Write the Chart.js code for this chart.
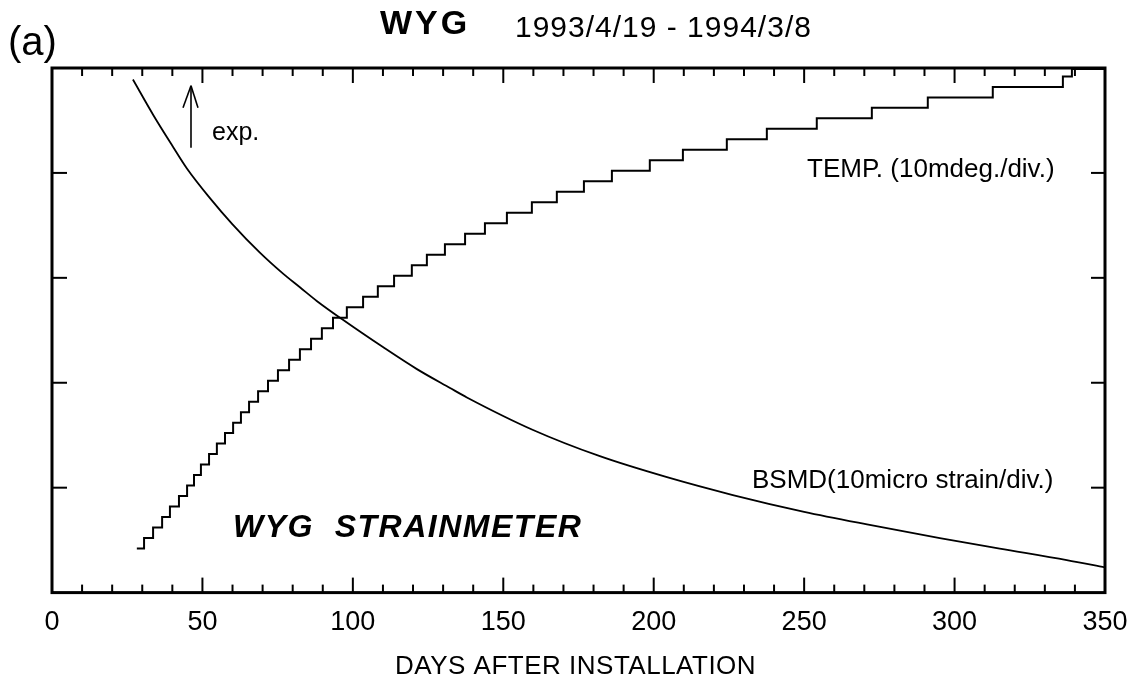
<!DOCTYPE html>
<html>
<head>
<meta charset="utf-8">
<script src="https://cdn.jsdelivr.net/npm/chart.js@4.4.0/dist/chart.umd.min.js"></script>
<style>
  html, body { margin: 0; padding: 0; background: #fff; }
  #wrap { width: 1136px; height: 682px; }
</style>
</head>
<body>
<div id="wrap"><canvas id="myChart" width="1136" height="682"></canvas></div>
<script>
// days after installation where the temperature steps up, and the level (mdeg, 10 mdeg/div)
var tempDays = [28.2, 30.6, 33.6, 36.6, 39.2, 42.2, 44.9, 47.2, 49.5, 52.2, 54.8, 57.5, 60.2, 62.8, 65.5, 68.5,
  71.8, 75.1, 78.8, 82.4, 86.1, 89.7, 93.4, 98.0, 103.4, 108.3, 113.7, 119.6, 124.6, 130.6, 137.3, 143.9,
  151.2, 159.5, 167.8, 176.8, 186.1, 198.7, 209.7, 224.3, 237.6, 254.2, 272.5, 291.1, 312.7, 336.0, 339.0, 350];
var tempMdeg = [4.2, 5.2, 6.2, 7.2, 8.2, 9.2, 10.2, 11.2, 12.2, 13.2, 14.2, 15.2, 16.2, 17.2, 18.2, 19.2,
  20.2, 21.2, 22.2, 23.2, 24.2, 25.2, 26.2, 27.2, 28.2, 29.2, 30.2, 31.2, 32.2, 33.2, 34.2, 35.2,
  36.2, 37.2, 38.2, 39.2, 40.2, 41.2, 42.2, 43.2, 44.2, 45.2, 46.2, 47.2, 48.2, 49.2, 49.9, 49.5];

// borehole strainmeter (micro strain, 10 per div)
var bsmdDays = [26.9, 33.7, 40.2, 44.9, 52.5, 60.0, 69.1, 76.8, 82.4, 88.0, 96.7, 110.0, 121.3,
  132.3, 137.9, 159.9, 182.1, 204.4, 226.3, 250.0, 270.9, 295.1, 315.0, 337.3, 350.0];
var bsmdStrain = [48.9, 45.5, 42.5, 40.4, 37.6, 35.1, 32.4, 30.4, 29.1, 27.8, 26.0, 23.4, 21.3,
  19.5, 18.6, 15.5, 13.0, 11.0, 9.3, 7.7, 6.5, 5.2, 4.2, 3.1, 2.4];

var xTicks = [0, 50, 100, 150, 200, 250, 300, 350];
var FONT = "'Liberation Sans', Arial, Helvetica, sans-serif";

function pts(xs, ys) {
  return xs.map((d, i) => ({ x: d, y: ys[i] }));
}

function txt(ctx, s, x, y, font, spacing, align) {
  ctx.font = font;
  if ('letterSpacing' in ctx) ctx.letterSpacing = (spacing || 0) + 'px';
  ctx.textAlign = align || 'left';
  ctx.textBaseline = 'alphabetic';
  ctx.fillText(s, x, y);
  if ('letterSpacing' in ctx) ctx.letterSpacing = '0px';
}

function seg(ctx, x1, y1, x2, y2) {
  ctx.beginPath(); ctx.moveTo(x1, y1); ctx.lineTo(x2, y2); ctx.stroke();
}

var decor = {
  id: 'decor',
  afterDraw(chart) {
    var ctx = chart.ctx, a = chart.chartArea, x = chart.scales.x, y = chart.scales.y;
    ctx.save();
    ctx.strokeStyle = '#000';
    ctx.fillStyle = '#000';
    ctx.lineCap = 'butt';

    // ticks, inward on all sides
    ctx.lineWidth = 2;
    for (var d = 10; d < 350; d += 10) {
      var px = x.getPixelForValue(d);
      var len = d % 50 === 0 ? 15 : 8;
      seg(ctx, px, a.bottom, px, a.bottom - len);
      seg(ctx, px, a.top, px, a.top + len);
    }
    for (var v = 10; v < 50; v += 10) {
      var py = y.getPixelForValue(v);
      seg(ctx, a.left, py, a.left + 15, py);
      seg(ctx, a.right, py, a.right - 14, py);
    }

    // frame
    ctx.lineWidth = 3;
    ctx.strokeRect(a.left, a.top, a.right - a.left, a.bottom - a.top);

    // exp. arrow
    ctx.lineWidth = 1.6;
    var ax = x.getPixelForValue(46.2), ay0 = y.getPixelForValue(42.4), ay1 = y.getPixelForValue(48.3);
    seg(ctx, ax, ay0, ax, ay1);
    seg(ctx, ax - 8, ay1 + 22, ax, ay1);
    seg(ctx, ax + 7, ay1 + 22, ax, ay1);
    txt(ctx, 'exp.', 212, 140, '25px ' + FONT, 0);

    // labels inside the plot
    txt(ctx, 'TEMP. (10mdeg./div.)', 807, 177, '26px ' + FONT, 0);
    txt(ctx, 'BSMD(10micro strain/div.)', 752, 488, '26px ' + FONT, 0);
    txt(ctx, 'WYG  STRAINMETER', 233, 537, 'italic bold 32px ' + FONT, 1.5);

    // titles
    txt(ctx, '(a)', 8, 55, '40px ' + FONT, 0);
    txt(ctx, 'WYG', 380, 34, 'bold 34px ' + FONT, 3);
    txt(ctx, '1993/4/19 - 1994/3/8', 515, 37, '30px ' + FONT, 1);
    txt(ctx, 'DAYS AFTER INSTALLATION', 395, 674, '26px ' + FONT, 0.5);
    ctx.restore();
  }
};

var chart = new Chart('myChart', {
  type: 'line',
  data: {
    datasets: [{
      label: 'TEMP',
      data: pts(tempDays, tempMdeg),
      stepped: true,
      borderColor: '#000',
      borderWidth: 2,
      pointRadius: 0,
      fill: false
    }, {
      label: 'BSMD',
      data: pts(bsmdDays, bsmdStrain),
      cubicInterpolationMode: 'monotone',
      borderColor: '#000',
      borderWidth: 1.8,
      pointRadius: 0,
      fill: false
    }]
  },
  options: {
    responsive: false,
    animation: false,
    devicePixelRatio: 1,
    layout: { padding: { left: 52, right: 31, top: 68, bottom: 29 } },
    plugins: {
      legend: { display: false },
      tooltip: { enabled: false },
      title: { display: false }
    },
    scales: {
      x: {
        type: 'linear',
        min: 0,
        max: 350,
        afterBuildTicks: (s) => { s.ticks = xTicks.map(v => ({ value: v })); },
        afterFit: (s) => { s.paddingLeft = 0; s.paddingRight = 0; },
        grid: { display: false, drawTicks: false },
        border: { display: false },
        ticks: {
          color: '#000',
          padding: 14,
          maxRotation: 0,
          font: { family: FONT, size: 27 }
        }
      },
      y: {
        display: false,
        min: 0,
        max: 50
      }
    }
  },
  plugins: [decor]
});
</script>
</body>
</html>
